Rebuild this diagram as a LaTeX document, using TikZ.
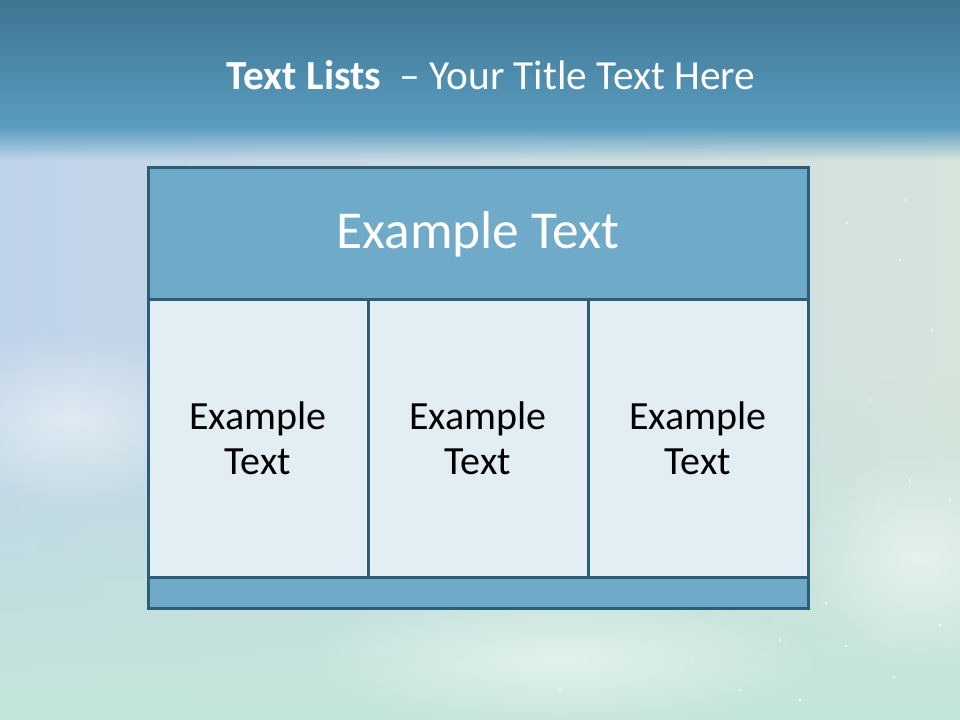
\documentclass[tikz,border=0pt]{standalone}
\usepackage{fontspec}
\setmainfont{Carlito}
\usetikzlibrary{positioning, fadings}

\definecolor{bandtop}{HTML}{3E7491}
\definecolor{bandbot}{HTML}{5A9DC0}
\definecolor{skyleft}{HTML}{BFD3EA}
\definecolor{skyright}{HTML}{D6E4DC}
\definecolor{skylow}{HTML}{C4E6DA}
\definecolor{frame}{HTML}{2E5E77}
\definecolor{headfill}{HTML}{70AAC9}
\definecolor{cellfill}{HTML}{E3EEF4}

\tikzfading[name=bandfade, top color=transparent!0, bottom color=transparent!100]
\tikzfading[name=risefade, top color=transparent!100, bottom color=transparent!0]
\tikzfading[name=fuzzy, inner color=transparent!50, outer color=transparent!100]

\begin{document}
\begin{tikzpicture}[x=0.75pt, y=-0.75pt,
  box/.style={draw=frame, line width=2.25pt, inner sep=0pt, outer sep=0pt},
  cell/.style={box, fill=cellfill, minimum width=165pt, minimum height=207.75pt,
    align=center, font=\fontsize{30}{33.75}\selectfont},
  star/.style={white, opacity=0.8}]
\useasboundingbox (0,0) rectangle (960,720);

% sky and title band
\fill[left color=skyleft, right color=skyright] (0,120) rectangle (960,720);
\fill[skylow, path fading=risefade] (0,380) rectangle (960,720);
\fill[white, path fading=fuzzy] (70,420) ellipse (150 and 90);
\fill[white, path fading=fuzzy] (560,660) ellipse (260 and 70);
\fill[white, path fading=fuzzy] (920,560) ellipse (120 and 110);
\foreach \sx/\sy in {847/223,900/260,932/330,870/400,910/480,780/640,800/700,
    846/646,826/603,894/677,940/625,950/500,905/200,740/690,560/690}
  \fill[star] (\sx,\sy) circle (1.3);
\fill[top color=bandtop, bottom color=bandbot] (0,0) rectangle (960,128);
\fill[bandbot, path fading=bandfade] (0,127) rectangle (960,160);

\node[text=white, font=\fontsize{31}{37}\selectfont] (title) at (491,75)
  {\textbf{Text Lists}\hspace{0.45em}– Your Title Text Here};

% table
\node[box, fill=headfill, minimum width=495pt, minimum height=99pt,
  text=white, font=\fontsize{40}{48}\selectfont] (head) at (478,234) {Example Text};
\node[cell] (left) at (258,438.5) {Example\\Text};
\node[cell] (mid) at (478,438.5) {Example\\Text};
\node[cell] (right) at (698,438.5) {Example\\Text};
\node[box, fill=headfill, minimum width=495pt, minimum height=23.25pt] (foot) at (478,592.5) {};
\end{tikzpicture}
\end{document}
